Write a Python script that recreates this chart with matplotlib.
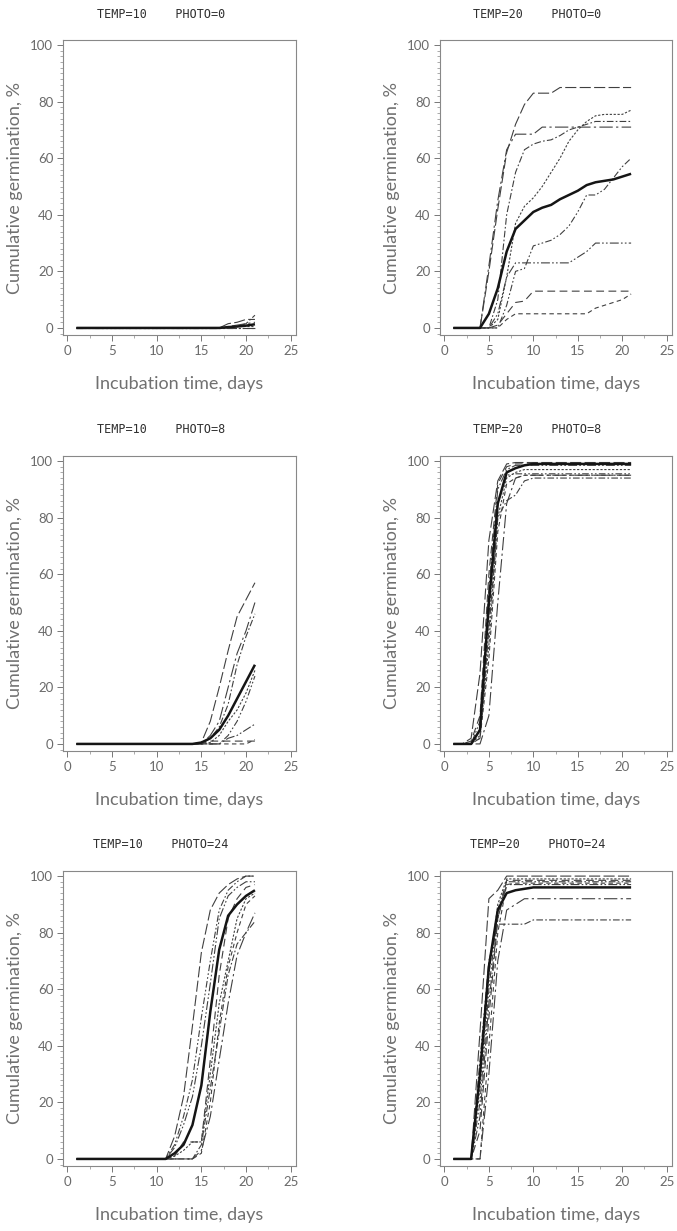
import matplotlib
matplotlib.use("Agg")
import matplotlib.pyplot as plt
from matplotlib.ticker import MultipleLocator

days = [1, 2, 3, 4, 5, 6, 7, 8, 9, 10, 11, 12, 13, 14, 15, 16, 17, 18, 19, 20, 21]

panel_titles = ["TEMP=10    PHOTO=0", "TEMP=20    PHOTO=0",
                "TEMP=10    PHOTO=8", "TEMP=20    PHOTO=8",
                "TEMP=10    PHOTO=24", "TEMP=20    PHOTO=24"]

# ---- TEMP=10 PHOTO=0 ----
t10_p0_mean = [0, 0, 0, 0, 0, 0, 0, 0, 0, 0, 0, 0, 0, 0, 0, 0, 0, 0.3, 0.5, 0.8, 1.3]
t10_p0_reps = [
    [0, 0, 0, 0, 0, 0, 0, 0, 0, 0, 0, 0, 0, 0, 0, 0, 0, 1.5, 2, 3, 3],
    [0, 0, 0, 0, 0, 0, 0, 0, 0, 0, 0, 0, 0, 0, 0, 0, 0, 0.5, 1, 1.5, 2],
    [0, 0, 0, 0, 0, 0, 0, 0, 0, 0, 0, 0, 0, 0, 0, 0, 0, 0, 0.5, 1.5, 4.5],
    [0, 0, 0, 0, 0, 0, 0, 0, 0, 0, 0, 0, 0, 0, 0, 0, 0, 0, 0.5, 0.5, 0.5],
    [0, 0, 0, 0, 0, 0, 0, 0, 0, 0, 0, 0, 0, 0, 0, 0, 0, 0, 0, 0, 0],
    [0, 0, 0, 0, 0, 0, 0, 0, 0, 0, 0, 0, 0, 0, 0, 0, 0, 0, 0, 0, 0],
]

# ---- TEMP=20 PHOTO=0 ----
t20_p0_mean = [0, 0, 0, 0, 5, 14, 27, 35, 38, 41, 42.5, 43.5, 45.5, 47, 48.5, 50.5, 51.5, 52, 52.5, 53.5, 54.5]
t20_p0_reps = [
    [0, 0, 0, 0, 20, 42, 62, 72, 79, 83, 83, 83, 85, 85, 85, 85, 85, 85, 85, 85, 85],
    [0, 0, 0, 0, 22, 45, 63, 68.5, 68.5, 68.5, 71, 71, 71, 71, 71, 71, 71, 71, 71, 71, 71],
    [0, 0, 0, 0, 0, 10, 40, 55, 63, 65, 66, 66.5, 68, 70, 71, 72, 73, 73, 73, 73, 73],
    [0, 0, 0, 0, 0, 3, 18, 37, 43, 46, 50, 55, 60, 66, 70, 73, 75, 75.5, 75.5, 75.5, 77],
    [0, 0, 0, 0, 0, 0, 8, 20, 21, 29, 30, 31, 33, 36, 41, 47, 47, 49, 53, 57, 60],
    [0, 0, 0, 0, 0, 5, 18, 23, 23, 23, 23, 23, 23, 23, 25, 27, 30, 30, 30, 30, 30],
    [0, 0, 0, 0, 0, 1, 5, 9, 9.5, 13, 13, 13, 13, 13, 13, 13, 13, 13, 13, 13, 13],
    [0, 0, 0, 0, 0, 0, 3, 5, 5, 5, 5, 5, 5, 5, 5, 5, 7, 8, 9, 10, 12],
]

# ---- TEMP=10 PHOTO=8 ----
t10_p8_mean = [0, 0, 0, 0, 0, 0, 0, 0, 0, 0, 0, 0, 0, 0, 0.5, 2, 5, 10, 16, 22, 28]
t10_p8_reps = [
    [0, 0, 0, 0, 0, 0, 0, 0, 0, 0, 0, 0, 0, 0, 0.5, 8, 20, 33, 45, 51, 57],
    [0, 0, 0, 0, 0, 0, 0, 0, 0, 0, 0, 0, 0, 0, 0, 3, 8, 20, 32, 40, 50],
    [0, 0, 0, 0, 0, 0, 0, 0, 0, 0, 0, 0, 0, 0, 0, 2, 6, 14, 28, 38, 46],
    [0, 0, 0, 0, 0, 0, 0, 0, 0, 0, 0, 0, 0, 0, 0, 0.5, 3, 8, 12, 18, 26],
    [0, 0, 0, 0, 0, 0, 0, 0, 0, 0, 0, 0, 0, 0, 0, 0, 0, 3, 8, 15, 24],
    [0, 0, 0, 0, 0, 0, 0, 0, 0, 0, 0, 0, 0, 0, 0, 0, 0, 2, 3, 5, 7],
    [0, 0, 0, 0, 0, 0, 0, 0, 0, 0, 0, 0, 0, 0, 0, 1, 1, 1, 1, 1, 1],
    [0, 0, 0, 0, 0, 0, 0, 0, 0, 0, 0, 0, 0, 0, 0, 0, 0, 0, 0, 0, 1.5],
]

# ---- TEMP=20 PHOTO=8 ----
t20_p8_mean = [0, 0, 0, 5, 50, 85, 96, 97.5, 98.5, 99, 99, 99, 99, 99, 99, 99, 99, 99, 99, 99, 99]
t20_p8_reps = [
    [0, 0, 2, 25, 72, 93, 99, 99.5, 99.5, 99.5, 99.5, 99.5, 99.5, 99.5, 99.5, 99.5, 99.5, 99.5, 99.5, 99.5, 99.5],
    [0, 0, 0, 0, 10, 50, 85, 94, 95, 95, 95, 95, 95, 95, 95, 95, 95, 95, 95, 95, 95],
    [0, 0, 0, 2, 40, 80, 86, 88, 93, 94, 94, 94, 94, 94, 94, 94, 94, 94, 94, 94, 94],
    [0, 0, 0, 3, 35, 80, 94, 96, 97, 97, 97, 97, 97, 97, 97, 97, 97, 97, 97, 97, 97],
    [0, 0, 0, 5, 45, 85, 95, 95.5, 95.5, 95.5, 95.5, 95.5, 95.5, 95.5, 95.5, 95.5, 95.5, 95.5, 95.5, 95.5, 95.5],
    [0, 0, 0, 8, 55, 90, 97, 98.5, 98.5, 98.5, 98.5, 98.5, 98.5, 98.5, 98.5, 98.5, 98.5, 98.5, 98.5, 98.5, 98.5],
    [0, 0, 1, 10, 60, 92, 98, 99, 99, 99, 99, 99, 99, 99, 99, 99, 99, 99, 99, 99, 99],
    [0, 0, 0, 2, 30, 75, 92, 94, 95, 95, 95, 95, 95, 95, 95, 95, 95, 95, 95, 95, 95],
]

# ---- TEMP=10 PHOTO=24 ----
t10_p24_mean = [0, 0, 0, 0, 0, 0, 0, 0, 0, 0, 0, 2, 5, 12, 26, 52, 74, 86, 90, 93, 95]
t10_p24_reps = [
    [0, 0, 0, 0, 0, 0, 0, 0, 0, 0, 0, 8, 22, 47, 73, 88, 94, 97, 99, 100, 100],
    [0, 0, 0, 0, 0, 0, 0, 0, 0, 0, 0, 0, 0, 0, 3, 15, 35, 55, 72, 80, 87],
    [0, 0, 0, 0, 0, 0, 0, 0, 0, 0, 0, 0, 0, 0, 5, 25, 45, 65, 76, 80, 84],
    [0, 0, 0, 0, 0, 0, 0, 0, 0, 0, 0, 1, 3, 6, 6, 30, 55, 70, 85, 92, 94],
    [0, 0, 0, 0, 0, 0, 0, 0, 0, 0, 0, 5, 15, 28, 50, 70, 88, 95, 98, 100, 100],
    [0, 0, 0, 0, 0, 0, 0, 0, 0, 0, 0, 4, 12, 22, 40, 62, 85, 93, 96, 98, 98],
    [0, 0, 0, 0, 0, 0, 0, 0, 0, 0, 0, 1, 6, 6, 6, 35, 65, 85, 92, 96, 97],
    [0, 0, 0, 0, 0, 0, 0, 0, 0, 0, 0, 0, 0, 0, 2, 20, 48, 68, 80, 90, 93],
]

# ---- TEMP=20 PHOTO=24 ----
t20_p24_mean = [0, 0, 0, 30, 68, 88, 94, 95, 95.5, 96, 96, 96, 96, 96, 96, 96, 96, 96, 96, 96, 96]
t20_p24_reps = [
    [0, 0, 0, 45, 92, 95, 100, 100, 100, 100, 100, 100, 100, 100, 100, 100, 100, 100, 100, 100, 100],
    [0, 0, 0, 0, 30, 70, 88, 90, 92, 92, 92, 92, 92, 92, 92, 92, 92, 92, 92, 92, 92],
    [0, 0, 0, 35, 70, 83, 83, 83, 83, 84.5, 84.5, 84.5, 84.5, 84.5, 84.5, 84.5, 84.5, 84.5, 84.5, 84.5, 84.5],
    [0, 0, 0, 25, 65, 90, 99, 99, 99, 99, 99, 99, 99, 99, 99, 99, 99, 99, 99, 99, 99],
    [0, 0, 0, 20, 60, 88, 98, 98, 98, 98, 98, 98, 98, 98, 98, 98, 98, 98, 98, 98, 98],
    [0, 0, 0, 15, 55, 85, 97, 97, 97, 97, 97, 97, 97, 97, 97, 97, 97, 97, 97, 97, 97],
    [0, 0, 0, 10, 50, 85, 98.5, 98.5, 98.5, 98.5, 98.5, 98.5, 98.5, 98.5, 98.5, 98.5, 98.5, 98.5, 98.5, 98.5, 98.5],
    [0, 0, 0, 0, 40, 80, 97, 97.5, 97.5, 97.5, 97.5, 97.5, 97.5, 97.5, 97.5, 97.5, 97.5, 97.5, 97.5, 97.5, 97.5],
]

panel_means = [t10_p0_mean, t20_p0_mean, t10_p8_mean, t20_p8_mean, t10_p24_mean, t20_p24_mean]
panel_reps = [t10_p0_reps, t20_p0_reps, t10_p8_reps, t20_p8_reps, t10_p24_reps, t20_p24_reps]

dash_styles = [
    (0, (10, 3)),            # long dash
    (0, (12, 3, 2, 3)),      # long dash-dot
    (0, (6, 2, 1.5, 2)),     # dash-dot
    (0, (2, 1.5)),           # dotted
    (0, (6, 2, 1.5, 2, 1.5, 2)),  # dash-dot-dot
    (0, (8, 2, 1.5, 2, 1.5, 2)),
    (0, (7, 4)),             # dash
    (0, (4, 3)),             # short dash
]

W, H = 677, 1231
fig = plt.figure(figsize=(W / 100, H / 100), dpi=100)

col_left = [63, 440]
col_w = [233, 232]
row_top = [40, 456, 871]
row_h = 295

label_font = "Lato"
gray_txt = "#6a6a6a"

for i in range(6):
    r, c = divmod(i, 2)
    x0 = col_left[c] / W
    y0 = 1 - (row_top[r] + row_h) / H
    ax = fig.add_axes([x0, y0, col_w[c] / W, row_h / H])
    reps = panel_reps[i]
    for k, s in enumerate(reps):
        ax.plot(days, s, color="#404040", lw=0.8,
                linestyle=dash_styles[k % len(dash_styles)])
    ax.plot(days, panel_means[i], color="#151515", lw=1.8, solid_capstyle="butt")

    ax.set_xlim(-0.5, 25.6)
    ax.set_ylim(-2.5, 101.8)
    ax.xaxis.set_major_locator(MultipleLocator(5))
    ax.xaxis.set_minor_locator(MultipleLocator(2.5))
    ax.yaxis.set_major_locator(MultipleLocator(20))
    ax.yaxis.set_minor_locator(MultipleLocator(2))
    ax.tick_params(which="major", direction="out", length=4, width=0.7,
                   color="#777777", labelsize=9.5, labelcolor=gray_txt, pad=3)
    ax.tick_params(which="minor", direction="out", length=2, width=0.5,
                   color="#888888")
    for lab in ax.get_xticklabels() + ax.get_yticklabels():
        lab.set_family(label_font)
    for sp in ax.spines.values():
        sp.set_color("#888888")
        sp.set_linewidth(0.8)

    ax.set_xlabel("Incubation time, days", fontsize=13, color="#707070",
                  family=label_font, fontweight="normal", labelpad=14)
    ax.set_ylabel("Cumulative germination, %", fontsize=13, color="#707070",
                  family=label_font, fontweight="normal", labelpad=5)

    ax.text(0.42, 1.0 + 26 / row_h, panel_titles[i], transform=ax.transAxes,
            ha="center", va="center", fontsize=8.5, family="DejaVu Sans Mono",
            color="#303030")

fig.savefig("out.png", dpi=100, facecolor="white")
